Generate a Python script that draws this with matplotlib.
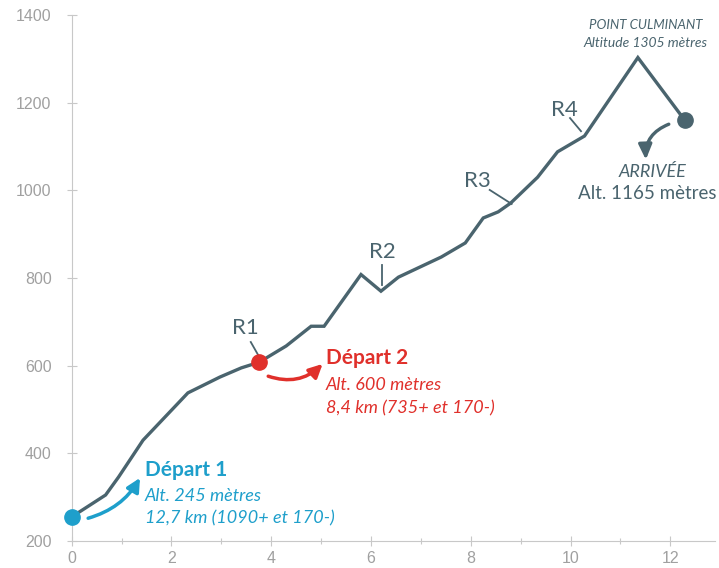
import matplotlib
matplotlib.use("Agg")
import matplotlib.pyplot as plt

# profil altimétrique (km, mètres)
dist_km = [0, 0.68, 0.94, 1.43, 2.33, 2.97, 3.4, 3.76, 4.3, 4.8, 5.06, 5.8, 6.2, 6.55,
           7.41, 7.89, 8.25, 8.55, 8.8, 9.34, 9.74, 10.28, 11.35, 12.29]
alt_m = [255, 305, 346, 430, 538, 574, 595, 608, 645, 690, 690, 808, 770, 802,
         848, 880, 937, 951, 971, 1030, 1088, 1124, 1303, 1160]

depart1 = (0, 255)
depart2 = (3.76, 608)
arrivee = (12.29, 1160)

x_ticks = [0, 2, 4, 6, 8, 10, 12]
y_ticks = [200, 400, 600, 800, 1000, 1200, 1400]

LINE = "#4a646e"
BLUE = "#1e9fcb"
RED = "#e0302b"
GRID = "#c8c8c8"
TICK = "#a0a0a0"
FONT = "Lato"

fig = plt.figure(figsize=(7.19, 5.68), dpi=100)
ax = fig.add_axes([0.0997, 0.0475, 0.895, 0.926])

ax.plot(dist_km, alt_m, color=LINE, lw=2.4, solid_capstyle="round", solid_joinstyle="miter", zorder=3)
ax.plot(*depart1, "o", color=BLUE, ms=11, zorder=4, clip_on=False)
ax.plot(*depart2, "o", color=RED, ms=11, zorder=4, clip_on=False)
ax.plot(*arrivee, "o", color=LINE, ms=11, zorder=4, clip_on=False)

ax.set_xlim(0, 12.9)
ax.set_ylim(200, 1400)
ax.set_xticks(x_ticks)
ax.set_xticks([1, 3, 5, 7, 9, 11], minor=True)
ax.set_yticks(y_ticks)
ax.tick_params(axis="both", which="both", direction="inout", colors=GRID, labelcolor=TICK,
               labelsize=11.5, length=7, width=0.8)
ax.tick_params(axis="both", which="minor", length=5)
ax.tick_params(axis="y", pad=11)
ax.tick_params(axis="x", pad=4)
for lbl in ax.get_xticklabels() + ax.get_yticklabels():
    lbl.set_family("Liberation Sans")
for side in ["top", "right"]:
    ax.spines[side].set_visible(False)
for side in ["left", "bottom"]:
    ax.spines[side].set_color(GRID)
    ax.spines[side].set_linewidth(0.8)

# repères R1..R4
reperes = [("R1", (3.48, 686), (3.59, 654), (3.75, 622)),
           ("R2", (6.23, 859), (6.23, 830), (6.23, 784)),
           ("R3", (8.14, 1021), (8.38, 1001), (8.82, 969)),
           ("R4", (9.87, 1183), (9.99, 1165), (10.21, 1135))]
for name, pos, a, b in reperes:
    ax.text(*pos, name, ha="center", va="center", fontsize=16, color=LINE, family=FONT)
    ax.plot([a[0], b[0]], [a[1], b[1]], color=LINE, lw=1.3, zorder=2)

# Départ 1
ax.text(1.47, 362, "Départ 1", color=BLUE, fontsize=15, fontweight="bold", family=FONT, va="center")
ax.text(1.47, 303, "Alt. 245 mètres", color=BLUE, fontsize=13, style="italic", family=FONT, va="center")
ax.text(1.47, 252, "12,7 km (1090+ et 170-)", color=BLUE, fontsize=13, style="italic", family=FONT, va="center")
ax.annotate("", xy=(1.37, 344), xytext=(0.33, 252),
            arrowprops=dict(arrowstyle="-|>,head_width=0.4,head_length=0.8", color=BLUE, lw=2.5,
                            connectionstyle="arc3,rad=0.2", shrinkA=0, shrinkB=0))

# Départ 2
ax.text(5.09, 617, "Départ 2", color=RED, fontsize=15, fontweight="bold", family=FONT, va="center")
ax.text(5.09, 556, "Alt. 600 mètres", color=RED, fontsize=13, style="italic", family=FONT, va="center")
ax.text(5.09, 503, "8,4 km (735+ et 170-)", color=RED, fontsize=13, style="italic", family=FONT, va="center")
ax.annotate("", xy=(5.03, 604), xytext=(3.94, 576),
            arrowprops=dict(arrowstyle="-|>,head_width=0.4,head_length=0.8", color=RED, lw=2.5,
                            connectionstyle="arc3,rad=0.3", shrinkA=0, shrinkB=0))

# point culminant et arrivée
ax.text(11.51, 1377, "POINT CULMINANT", color=LINE, fontsize=9.5, style="italic", family=FONT,
        ha="center", va="center")
ax.text(11.51, 1336, "Altitude 1305 mètres", color=LINE, fontsize=10, style="italic", family=FONT,
        ha="center", va="center")
ax.text(12.33, 1042, "ARRIVÉE", color=LINE, fontsize=13, style="italic", family=FONT,
        ha="right", va="center")
ax.text(12.92, 994, "Alt. 1165 mètres", color=LINE, fontsize=13.5, family=FONT,
        ha="right", va="center")
ax.annotate("", xy=(11.51, 1070), xytext=(11.97, 1151),
            arrowprops=dict(arrowstyle="-|>,head_width=0.4,head_length=0.9", color=LINE, lw=2.4,
                            connectionstyle="arc3,rad=0.35", shrinkA=0, shrinkB=0))

fig.savefig("out.png", dpi=100)
